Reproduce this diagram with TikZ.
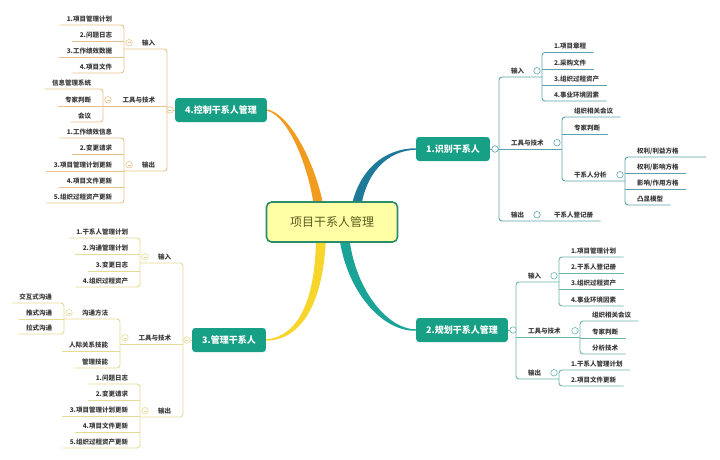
\documentclass[tikz,border=0pt]{standalone}
\usepackage{fontspec}
\newfontfamily\cjk{Noto Sans CJK SC}
\usetikzlibrary{calc,backgrounds}
\definecolor{hubfill}{HTML}{17A085}
\definecolor{rootfill}{HTML}{FFFFA6}
\definecolor{rootline}{HTML}{2B8C6E}
\definecolor{roottext}{HTML}{5B5A1E}
\definecolor{txt}{HTML}{3A3A3A}
\definecolor{lnA}{HTML}{5CA2AE}
\definecolor{lnB}{HTML}{6BB7AC}
\definecolor{lnC}{HTML}{E3DC96}
\definecolor{lnD}{HTML}{E6C38C}
\definecolor{cvA}{HTML}{1F7A99}
\definecolor{cvB}{HTML}{1AA396}
\definecolor{cvC}{HTML}{F7D52A}
\definecolor{cvD}{HTML}{F29C1F}

\tikzset{
  leaf/.style={font=\cjk\bfseries\fontsize{6.5}{7}\selectfont, text=txt, inner xsep=7.5pt, inner ysep=3pt, outer sep=0pt, text height=5.6pt, text depth=0.9pt},
  leafR/.style={leaf, anchor=south west, execute at begin node={\hspace*{4.5pt}}},
  leafL/.style={leaf, anchor=south east, execute at end node={\hspace*{4.5pt}}},
  hub/.style={rounded corners=3pt, fill=hubfill, text=white, font=\cjk\bfseries\fontsize{9}{11}\selectfont, minimum height=24pt, inner xsep=10pt},
  root/.style={rounded corners=5pt, fill=rootfill, draw=rootline, line width=1.6pt, minimum width=131pt, minimum height=40pt, text=roottext, font=\cjk\fontsize{12}{14}\selectfont},
  fold/.style={circle, draw=#1, fill=white, line width=0.6pt, inner sep=0pt, minimum size=6.5pt},
  foldL/.style={fold=#1, path picture={\draw[#1, line width=0.5pt] ([xshift=-1.5pt]path picture bounding box.center) -- ([xshift=1.5pt]path picture bounding box.center);}},
  bone/.style={draw=#1, line width=0.9pt, rounded corners=3pt},
}

\begin{document}
\begin{tikzpicture}[x=1pt,y=-1pt]
\useasboundingbox (0,0) rectangle (720,460);

\node[root] (root) at (332,222) {项目干系人管理};
\node[hub] (h1) at (453,149) {1.识别干系人};
\node[hub] (h2) at (462,330) {2.规划干系人管理};
\node[hub] (h3) at (229,340) {3.管理干系人};
\node[hub] (h4) at (221,110) {4.控制干系人管理};

\begin{scope}[on background layer]
\fill[white] (0,0) rectangle (720,460);
\fill[cvA] ([yshift=0.7pt]h1.west) .. controls (385,148) and (356,170) .. (350,215) -- (360,215) .. controls (364,172) and (388,150.5) .. ([yshift=-0.7pt]h1.west) -- cycle;
\fill[cvB] ([yshift=-0.7pt]h2.west) .. controls (383,332) and (346,292) .. (339,235) -- (349,235) .. controls (354,288) and (387,329.5) .. ([yshift=0.7pt]h2.west) -- cycle;
\fill[cvC] ([yshift=0.7pt]h3.east) .. controls (298,337) and (316,300) .. (316,235) -- (326,235) .. controls (324,302) and (302,340) .. ([yshift=-0.7pt]h3.east) -- cycle;
\fill[cvD] ([yshift=0.7pt]h4.east) .. controls (293,115) and (319,172) .. (325,215) -- (315,215) .. controls (311,173) and (290,116.5) .. ([yshift=-0.7pt]h4.east) -- cycle;
\end{scope}

\node[leafR] (m11) at (499,77) {输入};
\node[leafR] (m12) at (499,149) {工具与技术};
\node[leafR] (m13) at (499,221) {输出};
\node[leafR] (a11) at (542,52.5) {1.项目章程};
\node[leafR] (a12) at (542,69) {2.采购文件};
\node[leafR] (a13) at (542,85) {3.组织过程资产};
\node[leafR] (a14) at (542,101) {4.事业环境因素};
\node[leafR] (a15) at (542,221) {干系人登记册};
\node[leafR] (b11) at (562,117) {组织相关会议};
\node[leafR] (b12) at (562,134) {专家判断};
\node[leafR] (b13) at (562,181) {干系人分析};
\node[leafR] (c11) at (625,157) {权利/利益方格};
\node[leafR] (c12) at (625,173) {权利/影响方格};
\node[leafR] (c13) at (625,189) {影响/作用方格};
\node[leafR] (c14) at (625,205) {凸显模型};

\draw[bone=lnA] (a11.south west |- m11.south) -- (m11.south west) -- (m13.south west) -- (a15.south east);
\draw[bone=lnA] (h1.east) -- (b11.south west |- m12.south);
\draw[bone=lnA] (a11.south east) -- (a11.south west) -- (a14.south west) -- (a14.south east);
\draw[bone=lnA] (a12.south west) -- (a12.south east);
\draw[bone=lnA] (a13.south west) -- (a13.south east);
\draw[bone=lnA] (b11.south east) -- (b11.south west) -- (b13.south west) -- (c11.south west |- b13.south);
\draw[bone=lnA] (b12.south west) -- (b12.south east);
\draw[bone=lnA] ([xshift=20pt]c11.south east) -- (c11.south west) -- (c14.south west) -- (c14.south east);
\draw[bone=lnA] (c12.south west) -- (c12.south east);
\draw[bone=lnA] (c13.south west) -- (c13.south east);
\node[fold=lnA] (f1) at ([xshift=5pt]h1.east) {};
\node[fold=lnA] (f11) at ($(a11.south west |- m11)+(-5,0)$) {};
\node[fold=lnA] (f12) at ($(b11.south west |- m12)+(-5,0)$) {};
\node[fold=lnA] (f13) at ($(c11.south west |- b13)+(-5,0)$) {};
\node[fold=lnA] (f14) at ($(a15.south west |- m13)+(-5,0)$) {};

\node[leafR] (m21) at (516,282) {输入};
\node[leafR] (m22) at (516,337) {工具与技术};
\node[leafR] (m23) at (516,379) {输出};
\node[leafR] (a21) at (559,257) {1.项目管理计划};
\node[leafR] (a22) at (559,273) {2.干系人登记册};
\node[leafR] (a23) at (559,289) {3.组织过程资产};
\node[leafR] (a24) at (559,306) {4.事业环境因素};
\node[leafR] (b21) at (580,321) {组织相关会议};
\node[leafR] (b22) at (580,338) {专家判断};
\node[leafR] (b23) at (580,354) {分析技术};
\node[leafR] (c21) at (559,370) {1.干系人管理计划};
\node[leafR] (c22) at (559,386) {2.项目文件更新};

\draw[bone=lnB] (a21.south west |- m21.south) -- (m21.south west) -- (m23.south west) -- (c21.south west |- m23.south);
\draw[bone=lnB] (h2.east) -- (h2.east -| m21.south west);
\draw[bone=lnB] (m22.south west) -- (b21.south west |- m22.south);
\draw[bone=lnB] (a21.south east) -- (a21.south west) -- (a24.south west) -- (a24.south east);
\draw[bone=lnB] (a22.south west) -- (a22.south east);
\draw[bone=lnB] (a23.south west) -- (a23.south east);
\draw[bone=lnB] (b21.south east) -- (b21.south west) -- (b23.south west) -- (b23.south east);
\draw[bone=lnB] (b22.south west) -- (b22.south east);
\draw[bone=lnB] (c21.south east) -- (c21.south west) -- (c22.south west) -- (c22.south east);
\node[fold=lnB] (f2) at ([xshift=5pt]h2.east) {};
\node[fold=lnB] (f21) at ($(a21.south west |- m21)+(-5,0)$) {};
\node[fold=lnB] (f22) at ($(b21.south west |- m22)+(-5,0)$) {};
\node[fold=lnB] (f23) at ($(c21.south west |- m23)+(-5,0)$) {};

\node[leafL] (m31) at (183,263) {输入};
\node[leafL] (m32) at (183,344) {工具与技术};
\node[leafL] (m33) at (183,417) {输出};
\node[leafL] (a31) at (140,238) {1.干系人管理计划};
\node[leafL] (a32) at (140,254) {2.沟通管理计划};
\node[leafL] (a33) at (140,271) {3.变更日志};
\node[leafL] (a34) at (140,287) {4.组织过程资产};
\node[leafL] (b31) at (120,319) {沟通方法};
\node[leafL] (b32) at (120,351) {人际关系技能};
\node[leafL] (b33) at (120,368) {管理技能};
\node[leafL] (d31) at (64,303) {交互式沟通};
\node[leafL] (d32) at (64,319) {推式沟通};
\node[leafL] (d33) at (64,334) {拉式沟通};
\node[leafL] (c31) at (140,384) {1.问题日志};
\node[leafL] (c32) at (140,400) {2.变更请求};
\node[leafL] (c33) at (140,416) {3.项目管理计划更新};
\node[leafL] (c34) at (140,432) {4.项目文件更新};
\node[leafL] (c35) at (140,448) {5.组织过程资产更新};

\draw[bone=lnC] (a31.south east |- m31.south) -- (m31.south east) -- (m33.south east) -- (c31.south east |- m33.south);
\draw[bone=lnC] (h3.west) -- (h3.west -| m31.south east);
\draw[bone=lnC] (m32.south east) -- (b31.south east |- m32.south);
\draw[bone=lnC] (a31.south west) -- (a31.south east) -- (a34.south east) -- (a34.south west);
\draw[bone=lnC] (a32.south east) -- (a32.south west);
\draw[bone=lnC] (a33.south east) -- (a33.south west);
\draw[bone=lnC] (d31.south east |- b31.south) -- (b31.south east) -- (b33.south east) -- (b33.south west);
\draw[bone=lnC] (b32.south east) -- (b32.south west);
\draw[bone=lnC] (d31.south west) -- (d31.south east) -- (d33.south east) -- (d33.south west);
\draw[bone=lnC] (d32.south east) -- (d32.south west);
\draw[bone=lnC] (c31.south west) -- (c31.south east) -- (c35.south east) -- (c35.south west);
\draw[bone=lnC] (c32.south east) -- (c32.south west);
\draw[bone=lnC] (c33.south east) -- (c33.south west);
\draw[bone=lnC] (c34.south east) -- (c34.south west);
\node[foldL=lnC] (f3) at ([xshift=-5pt]h3.west) {};
\node[foldL=lnC] (f31) at ($(a31.south east |- m31)+(5,0)$) {};
\node[foldL=lnC] (f32) at ($(b31.south east |- m32)+(5,0)$) {};
\node[foldL=lnC] (f33) at ($(d31.south east |- b31)+(5,0)$) {};
\node[foldL=lnC] (f34) at ($(c31.south east |- m33)+(5,0)$) {};

\node[leafL] (m41) at (167,49) {输入};
\node[leafL] (m42) at (167,106) {工具与技术};
\node[leafL] (m43) at (167,171) {输出};
\node[leafL] (a41) at (124,25) {1.项目管理计划};
\node[leafL] (a42) at (124,41) {2.问题日志};
\node[leafL] (a43) at (124,57) {3.工作绩效数据};
\node[leafL] (a44) at (124,73) {4.项目文件};
\node[leafL] (b41) at (103,89) {信息管理系统};
\node[leafL] (b42) at (103,106) {专家判断};
\node[leafL] (b43) at (103,122) {会议};
\node[leafL] (c41) at (124,138) {1.工作绩效信息};
\node[leafL] (c42) at (124,154) {2.变更请求};
\node[leafL] (c43) at (124,171) {3.项目管理计划更新};
\node[leafL] (c44) at (124,187) {4.项目文件更新};
\node[leafL] (c45) at (124,203) {5.组织过程资产更新};

\draw[bone=lnD] (a41.south east |- m41.south) -- (m41.south east) -- (m43.south east) -- (c41.south east |- m43.south);
\draw[bone=lnD] (h4.west) -- (h4.west -| m41.south east);
\draw[bone=lnD] (m42.south east) -- (b41.south east |- m42.south);
\draw[bone=lnD] (a41.south west) -- (a41.south east) -- (a44.south east) -- (a44.south west);
\draw[bone=lnD] (a42.south east) -- (a42.south west);
\draw[bone=lnD] (a43.south east) -- (a43.south west);
\draw[bone=lnD] (b41.south west) -- (b41.south east) -- (b43.south east) -- (b43.south west);
\draw[bone=lnD] (b42.south east) -- (b42.south west);
\draw[bone=lnD] (c41.south west) -- (c41.south east) -- (c45.south east) -- (c45.south west);
\draw[bone=lnD] (c42.south east) -- (c42.south west);
\draw[bone=lnD] (c43.south east) -- (c43.south west);
\draw[bone=lnD] (c44.south east) -- (c44.south west);
\node[foldL=lnD] (f4) at ([xshift=-5pt]h4.west) {};
\node[foldL=lnD] (f41) at ($(a41.south east |- m41)+(5,0)$) {};
\node[foldL=lnD] (f42) at ($(b41.south east |- m42)+(5,0)$) {};
\node[foldL=lnD] (f43) at ($(c41.south east |- m43)+(5,0)$) {};

\end{tikzpicture}
\end{document}
